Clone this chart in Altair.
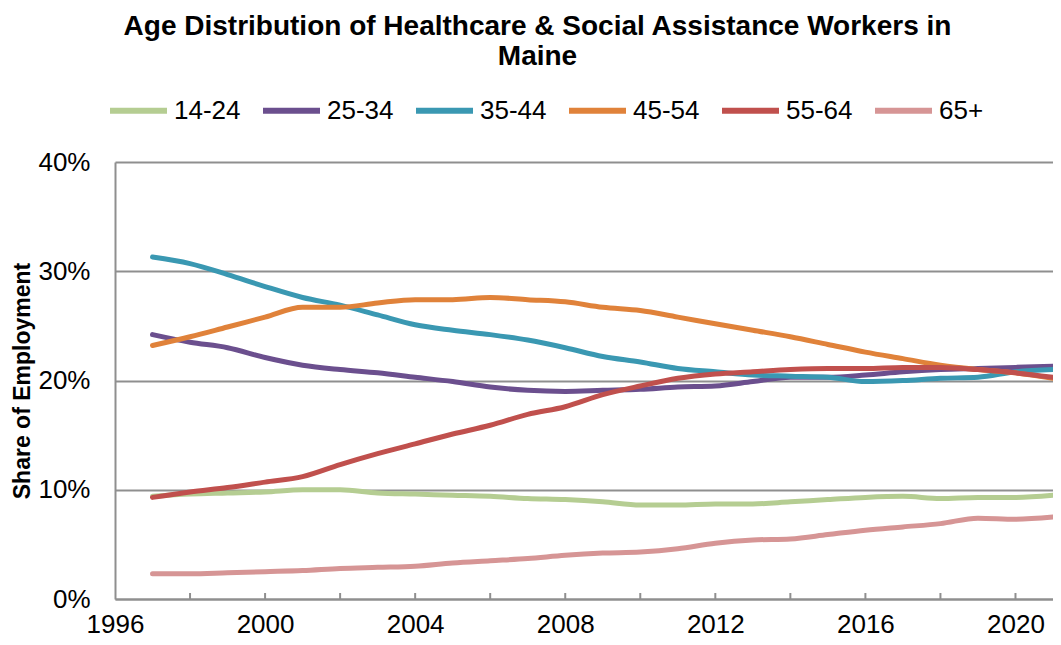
import altair as alt
import pandas as pd

years = list(range(1997, 2022))
age_groups = ["14-24", "25-34", "35-44", "45-54", "55-64", "65+"]

share_14_24 = [9.4, 9.6, 9.7, 9.8, 10.0, 10.0, 9.7, 9.6, 9.5, 9.4, 9.2, 9.1, 8.9,
               8.6, 8.6, 8.7, 8.7, 8.9, 9.1, 9.3, 9.4, 9.2, 9.3, 9.3, 9.5]
share_25_34 = [24.2, 23.5, 23.0, 22.1, 21.4, 21.0, 20.7, 20.3, 19.9, 19.4, 19.1, 19.0, 19.1,
               19.2, 19.4, 19.5, 19.9, 20.3, 20.3, 20.5, 20.8, 21.0, 21.1, 21.2, 21.3]
share_35_44 = [31.3, 30.7, 29.7, 28.6, 27.6, 26.9, 26.0, 25.1, 24.6, 24.2, 23.7, 23.0, 22.2,
               21.7, 21.1, 20.8, 20.5, 20.4, 20.3, 19.9, 20.0, 20.2, 20.3, 20.8, 21.0]
share_45_54 = [23.2, 24.0, 24.9, 25.8, 26.7, 26.7, 27.1, 27.4, 27.4, 27.6, 27.4, 27.2, 26.7,
               26.4, 25.8, 25.2, 24.6, 24.0, 23.3, 22.6, 22.0, 21.4, 21.0, 20.7, 20.2]
share_55_64 = [9.3, 9.8, 10.2, 10.7, 11.2, 12.3, 13.3, 14.2, 15.1, 15.9, 16.9, 17.6, 18.7,
               19.5, 20.2, 20.6, 20.8, 21.0, 21.1, 21.1, 21.2, 21.2, 21.0, 20.7, 20.3]
share_65_plus = [2.3, 2.3, 2.4, 2.5, 2.6, 2.8, 2.9, 3.0, 3.3, 3.5, 3.7, 4.0, 4.2,
                 4.3, 4.6, 5.1, 5.4, 5.5, 5.9, 6.3, 6.6, 6.9, 7.4, 7.3, 7.5]

series = [share_14_24, share_25_34, share_35_44, share_45_54, share_55_64, share_65_plus]
colors = ["#B5CD92", "#6B4F8E", "#3A98B2", "#E0823A", "#C0504D", "#D69595"]

label_years = [1996, 2000, 2004, 2008, 2012, 2016, 2020]
tick_years = list(range(1998, 2021, 2))
y_ticks = [0, 10, 20, 30, 40]

rows = []
for g, vals in zip(age_groups, series):
    for yr, v in zip(years, vals):
        rows.append({"year": yr, "group": g, "share": v})
df = pd.DataFrame(rows)
ticks_df = pd.DataFrame({"year": tick_years})

FONT = "Liberation Sans"
GRAY = "#8f8f8f"

x_enc = alt.X(
    "year:Q",
    scale=alt.Scale(domain=[1996, 2021], nice=False, zero=False),
    axis=alt.Axis(values=label_years, format="d", title=None, ticks=False, grid=False,
                  labelFontSize=26, labelPadding=12, labelFlush=False, labelOverlap=False,
                  domainColor=GRAY, domainWidth=2, labelColor="black", labelFont=FONT),
)
y_enc = alt.Y(
    "share:Q",
    scale=alt.Scale(domain=[0, 40], nice=False),
    axis=alt.Axis(values=y_ticks, labelExpr="datum.value + '%'", title="Share of Employment",
                  titleFontSize=23, titleFontWeight="bold", titleFont=FONT, titleColor="black",
                  titlePadding=3, labelFontSize=26, labelPadding=25, labelFlush=False,
                  ticks=False, gridColor=GRAY, gridWidth=2, domainColor=GRAY, domainWidth=2,
                  labelColor="black", labelFont=FONT),
)

lines = alt.Chart(df).mark_line(strokeWidth=5, interpolate="monotone", strokeCap="round").encode(
    x=x_enc,
    y=y_enc,
    color=alt.Color(
        "group:N",
        scale=alt.Scale(domain=age_groups, range=colors),
        legend=alt.Legend(title=None, orient="none", legendX=-8, legendY=-83,
                          direction="horizontal", columns=6, symbolType="stroke",
                          symbolSize=3249, symbolStrokeWidth=6, labelFontSize=26,
                          labelOffset=4, columnPadding=10, padding=0, labelFont=FONT,
                          labelColor="black"),
    ),
)

xticks = alt.Chart(ticks_df).mark_rule(color=GRAY, strokeWidth=2).encode(
    x="year:Q",
    y=alt.datum(0),
    y2=alt.datum(0.55),
)

chart = alt.layer(lines, xticks).properties(
    width=938,
    height=437,
    title=alt.TitleParams(
        text=["Age Distribution of Healthcare & Social Assistance Workers in", "Maine"],
        fontSize=28, font=FONT, fontWeight="bold", anchor="middle", frame="bounds",
        offset=8, lineHeight=30, color="black",
    ),
    padding={"left": 107, "top": 154, "right": 0, "bottom": 38},
    autosize=alt.AutoSizeParams(type="none"),
).configure_view(stroke=None)

chart.save("out.html", embed_options={"renderer": "svg", "actions": False})
